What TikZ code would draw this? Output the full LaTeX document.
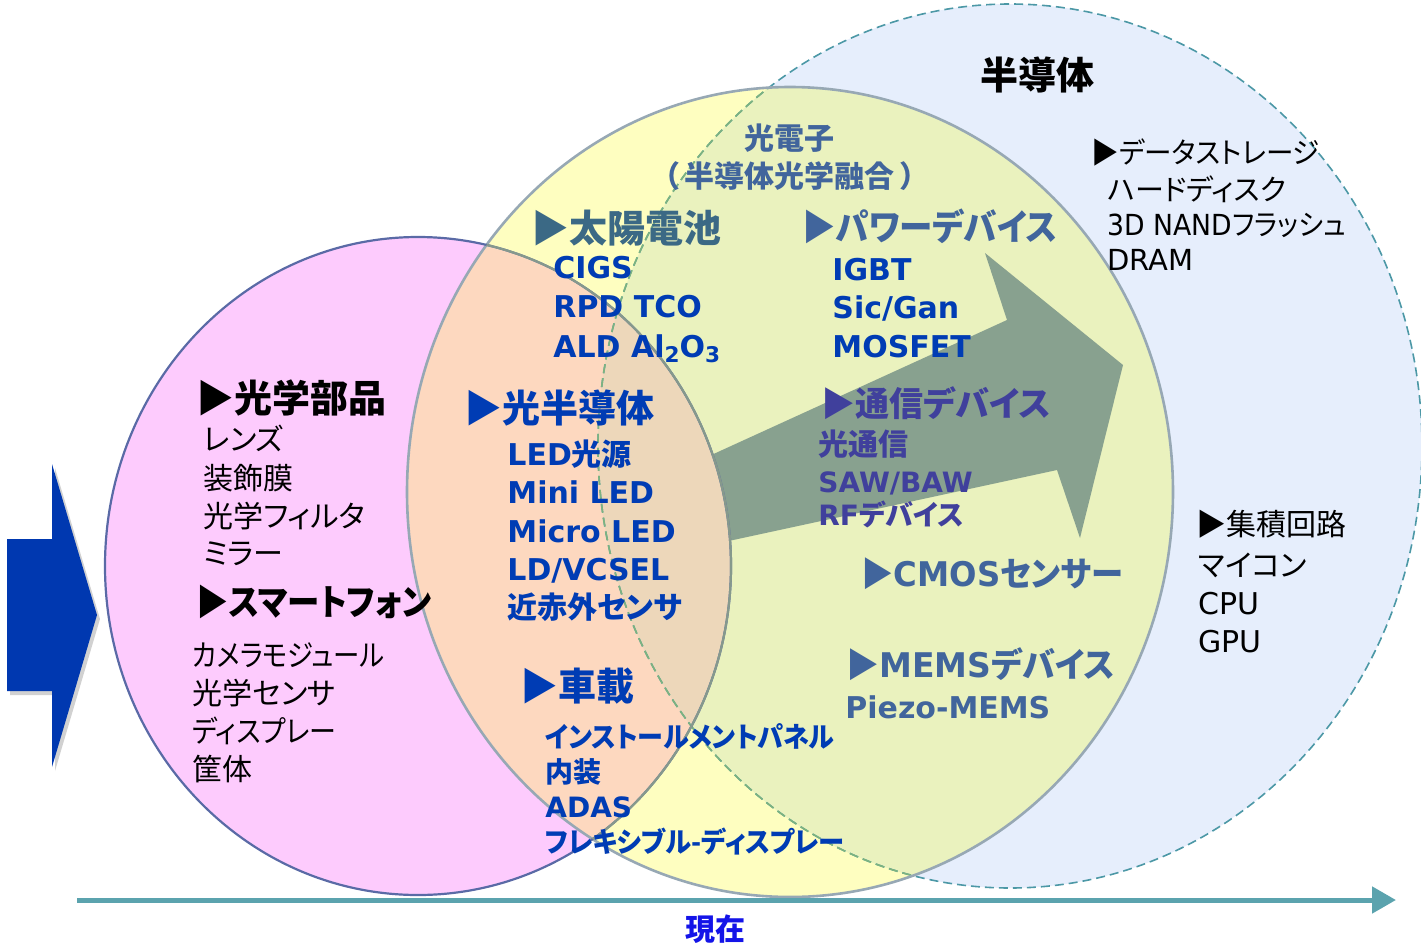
\documentclass[tikz,border=0pt]{standalone}
\usepackage{fontspec}
\setmainfont{Noto Sans CJK JP}[RawFeature={+palt}]
\newfontfamily\cjkfw{Noto Sans CJK JP}
\newfontfamily\latf{DejaVu Sans}
\newcommand\LA[1]{{\latf #1}}
\newcommand\hs[2]{\scalebox{#1}[1]{#2}}
\newcommand\sbs[1]{\raisebox{-0.35ex}{\scalebox{0.72}{#1}}}
\usetikzlibrary{arrows.meta}
\definecolor{cPink}{HTML}{FDCBFD}
\definecolor{cPY}{HTML}{FDD8BF}
\definecolor{cPYB}{HTML}{EDD7BA}
\definecolor{cYel}{HTML}{FEFEC0}
\definecolor{cYB}{HTML}{EAF2BE}
\definecolor{cBlue}{HTML}{E6EEFC}
\definecolor{cArrow}{HTML}{88A18F}
\definecolor{cBT}{HTML}{003CB4}
\definecolor{cSteel}{HTML}{41659C}
\definecolor{cTeal}{HTML}{3B6985}
\definecolor{cPurp}{HTML}{40409C}
\definecolor{cNow}{HTML}{1414E8}
\definecolor{cAxis}{HTML}{5BA3AE}
\definecolor{cLeft}{HTML}{0038B0}
\definecolor{cPO}{HTML}{5A6AA6}
\definecolor{cPOg}{HTML}{86998C}
\definecolor{cYO}{HTML}{97A8B4}
\definecolor{cDT}{HTML}{4C98A6}
\definecolor{cDG}{HTML}{7DB37F}
\begin{document}
\begin{tikzpicture}[x=0.5pt,y=-0.5pt,
  txt/.style={anchor=west,inner sep=0pt,text height=0.88em,text depth=0.12em,yshift=-2.25pt},
  ctxt/.style={txt,anchor=center},
  hd/.style={font=\fontsize{19}{21}\selectfont\bfseries},
  hdk/.style={font=\fontsize{18}{20}\selectfont\bfseries},
  hdm/.style={font=\fontsize{17}{19}\selectfont\bfseries},
  bi/.style={font=\fontsize{15}{17}\selectfont\bfseries},
  bs/.style={font=\fontsize{14}{16}\selectfont\bfseries},
  ri/.style={font=\fontsize{15}{17}\selectfont},
  rs/.style={font=\fontsize{14.5}{16}\selectfont},
  axisline/.style={draw=cAxis,line width=2.5pt,-{Triangle[length=12pt,width=13pt]}},
  dsh/.style={dash pattern=on 4.5pt off 2.5pt,line width=0.8pt}
]
\useasboundingbox (0,0) rectangle (1421,943);
\clip (0,0) rectangle (1421,943);
\def\pinkE{(418,566) ellipse [x radius=156.5pt, y radius=164.5pt]}
\def\yelE{(790,492) ellipse [x radius=191.5pt, y radius=202.5pt]}
\def\bluE{(1010,446) ellipse [x radius=206pt, y radius=221pt]}
% regions
\fill[cBlue] \bluE;
\fill[cYel] \yelE;
\begin{scope}\clip \yelE; \fill[cYB] \bluE;\end{scope}
% big arrow
\fill[cArrow] (650,483) -- (1007,320) -- (985,253) -- (1123,365) -- (1080,538) -- (1057,470) -- (650,558) -- cycle;
\fill[cPink] \pinkE;
\begin{scope}\clip \pinkE; \fill[cPY] \yelE; \clip \yelE; \fill[cPYB] \bluE;\end{scope}
% outlines
\draw[cDT,dsh] \bluE;
\begin{scope}\clip \yelE; \draw[cDG,dsh] \bluE;\end{scope}
\draw[cYO,line width=1.3pt] \yelE;
\draw[cPO,line width=1.1pt] \pinkE;
\begin{scope}\clip \yelE; \draw[cPOg,line width=1.1pt] \pinkE;\end{scope}
% left arrow
\fill[black,opacity=0.18] (10,543) -- (55,543) -- (55,468) -- (100,619) -- (55,771) -- (55,695) -- (10,695) -- cycle;
\fill[cLeft] (7,539) -- (52,539) -- (52,464) -- (97,615) -- (52,767) -- (52,691) -- (7,691) -- cycle;
% time axis
\coordinate (ax0) at (77,900);
\coordinate (ax1) at (1396,900);
\draw[axisline] (ax0) -- (ax1);
\node[ctxt,font=\fontsize{15}{17}\selectfont\bfseries,text=cNow] (now) at (715,928) {現在};
% pink texts
\node[txt,hd] (p1) at (196,400) {▶光学部品};
\node[txt,ri] (p2) at (203,438) {レンズ};
\node[txt,ri] (p3) at (203,477) {装飾膜};
\node[txt,ri] (p4) at (203,515) {光学フィルタ};
\node[txt,ri] (p5) at (203,552) {ミラー};
\node[txt,hdk] (p6) at (196,603) {\hs{0.9}{▶スマートフォン}};
\node[txt,ri] (p7) at (192,654) {\hs{0.88}{カメラモジュール}};
\node[txt,ri] (p8) at (192,692) {光学センサ};
\node[txt,ri] (p9) at (192,730) {\hs{0.9}{ディスプレー}};
\node[txt,ri] (p10) at (192,768) {筐体};
% orange texts
\node[txt,hd,text=cBT] (o1) at (464,410) {▶光半導体};
\node[txt,bi,text=cBT] (o2) at (507,453) {\LA{LED}光源};
\node[txt,bi,text=cBT] (o3) at (507,491) {\LA{Mini LED}};
\node[txt,bi,text=cBT] (o4) at (507,530) {\LA{Micro LED}};
\node[txt,bi,text=cBT] (o5) at (507,568) {\LA{LD/VCSEL}};
\node[txt,bi,text=cBT] (o6) at (507,606) {近赤外センサ};
\node[txt,hd,text=cBT] (c1) at (520,688) {▶車載};
\node[txt,bs,text=cBT] (c2) at (545,735) {\hs{0.93}{インストールメントパネル}};
\node[txt,bs,text=cBT] (c3) at (545,770) {内装};
\node[txt,bs,text=cBT] (c4) at (545,805) {\LA{ADAS}};
\node[txt,bs,text=cBT] (c5) at (545,840) {\hs{0.94}{フレキシブル-ディスプレー}};
% yellow texts
\node[ctxt,font=\fontsize{15}{17}\selectfont\bfseries,text=cSteel] (y1) at (789,137) {光電子};
\node[ctxt,font=\fontsize{15}{17}\selectfont\bfseries,text=cSteel] (y2) at (790,175) {（\hspace{0.2em}半導体光学融合\hspace{0.2em}）};
\node[txt,hd,text=cTeal] (s1) at (531,230) {▶太陽電池};
\node[txt,bi,text=cBT] (s2) at (553,266) {\LA{CIGS}};
\node[txt,bi,text=cBT] (s3) at (553,305) {\LA{RPD TCO}};
\node[txt,bi,text=cBT] (s4) at (553,345) {\LA{ALD Al\sbs{2}O\sbs{3}}};
\node[txt,hdk,text=cSteel] (w1) at (802,228) {\hs{0.93}{▶パワーデバイス}};
\node[txt,bi,text=cBT] (w2) at (832,268) {\LA{IGBT}};
\node[txt,bi,text=cBT] (w3) at (832,306) {\LA{Sic/Gan}};
\node[txt,bi,text=cBT] (w4) at (832,345) {\LA{MOSFET}};
\node[txt,hdm,text=cPurp] (t1) at (821,404) {▶通信デバイス};
\node[txt,bi,text=cPurp] (t2) at (818,443) {光通信};
\node[txt,bs,text=cPurp] (t3) at (818,480) {\LA{SAW/BAW}};
\node[txt,bs,text=cPurp] (t4) at (818,513) {\LA{RF}デバイス};
\node[txt,hdm,text=cSteel] (m1) at (861,574) {\hs{0.95}{▶\LA{CMOS}センサー}};
\node[txt,hdm,text=cSteel] (m2) at (846,665) {\hs{0.97}{▶\LA{MEMS}デバイス}};
\node[txt,bi,text=cSteel] (m3) at (845,706) {\LA{Piezo-MEMS}};
% blue texts
\node[ctxt,hd] (b0) at (1037,77) {半導体};
\node[txt,rs] (b1) at (1091,151) {\hs{0.95}{▶データストレージ}};
\node[txt,rs] (b2) at (1107,188) {ハードディスク};
\node[txt,rs] (b3) at (1107,223) {\hs{0.92}{\LA{3D NAND}フラッシュ}};
\node[txt,rs] (b4) at (1107,258) {\LA{DRAM}};
\node[txt,ri] (b5) at (1196,523) {▶集積回路};
\node[txt,ri] (b6) at (1198,564) {マイコン};
\node[txt,ri] (b7) at (1198,602) {\LA{CPU}};
\node[txt,ri] (b8) at (1198,640) {\LA{GPU}};
\end{tikzpicture}
\end{document}
